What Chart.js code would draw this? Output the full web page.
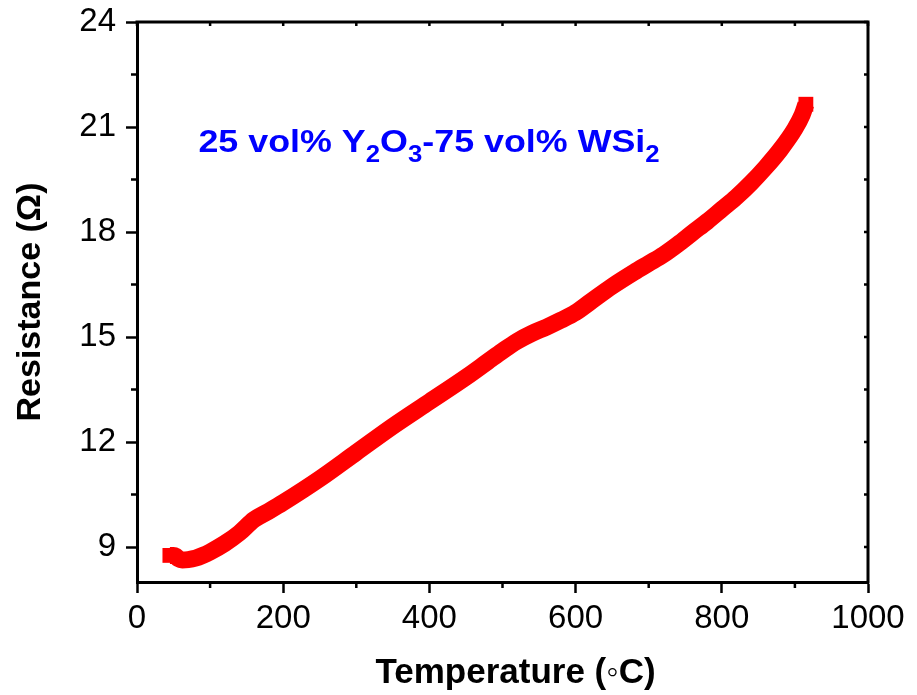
<!DOCTYPE html>
<html>
<head>
<meta charset="utf-8">
<title>Resistance vs Temperature</title>
<script src="https://cdn.jsdelivr.net/npm/chart.js@4.4.1/dist/chart.umd.min.js"></script>
<style>
    html, body { margin: 0; padding: 0; background: #fff; }
    #grafico { display: block; }
</style>
</head>
<body>
<canvas id="grafico" width="917" height="695"></canvas>
<script>
// Medidas: temperatura (°C) y resistencia (Ω)
const temperatura = [45, 50, 53, 57, 62, 70, 80, 90, 100, 120, 140, 160, 180, 200, 250, 300, 350, 400, 450, 480,
    500, 520, 540, 560, 580, 600, 620, 650, 680, 700, 720, 740, 760, 780, 800, 820, 840, 860, 880, 900, 910, 915];
const resistencia = [8.76, 8.76, 8.74, 8.66, 8.63, 8.64, 8.68, 8.76, 8.86, 9.1, 9.4, 9.78, 10.02, 10.27, 10.95, 11.7, 12.45, 13.15, 13.85, 14.3,
    14.6, 14.88, 15.1, 15.28, 15.48, 15.7, 16.0, 16.45, 16.85, 17.1, 17.35, 17.65, 17.98, 18.3, 18.65, 19.0, 19.4, 19.85, 20.35, 20.95, 21.35, 21.65];

// Marcas de los ejes
const ticksX = [0, 200, 400, 600, 800, 1000];
const ticksY = [9, 12, 15, 18, 21, 24];
const menoresX = [100, 300, 500, 700, 900];
const menoresY = [10.5, 13.5, 16.5, 19.5, 22.5];

// Rótulo de la composición: [texto, subíndice]
const rotulo = [['25 vol% Y', false], ['2', true], ['O', false], ['3', true], ['-75 vol% WSi', false], ['2', true]];
const tituloX = 'Temperature (◦C)';

const fuente = "'Liberation Sans', Arial, sans-serif";

// Marco superior/derecho, marcas menores, título X y rótulo azul
const marco = {
    id: 'marco',
    afterDraw(chart) {
        const { ctx, chartArea: a, scales: { x, y } } = chart;
        ctx.save();
        ctx.strokeStyle = '#000';
        ctx.lineWidth = 3;
        ctx.beginPath();
        ctx.moveTo(a.left - 1.5, a.top);
        ctx.lineTo(a.right, a.top);
        ctx.lineTo(a.right, a.bottom + 1.5);
        ctx.stroke();

        ctx.lineWidth = 2.5;
        ctx.beginPath();
        menoresX.forEach(v => {
            const px = x.getPixelForValue(v);
            ctx.moveTo(px, a.bottom);
            ctx.lineTo(px, a.bottom + 6);
        });
        menoresY.forEach(v => {
            const py = y.getPixelForValue(v);
            ctx.moveTo(a.left, py);
            ctx.lineTo(a.left - 6, py);
        });
        [...ticksX, ...menoresX].forEach(v => {
            const px = x.getPixelForValue(v);
            ctx.moveTo(px, a.top);
            ctx.lineTo(px, a.top + 4);
        });
        [...ticksY, ...menoresY].forEach(v => {
            const py = y.getPixelForValue(v);
            ctx.moveTo(a.right, py);
            ctx.lineTo(a.right - 4, py);
        });
        ctx.stroke();

        // título del eje X
        ctx.fillStyle = '#000';
        ctx.font = `bold 35px ${fuente}`;
        ctx.textAlign = 'center';
        ctx.textBaseline = 'middle';
        ctx.fillText(tituloX, (a.left + a.right) / 2 + 13, a.bottom + 91);

        // rótulo con subíndices, algo ensanchado
        ctx.fillStyle = '#0000ff';
        ctx.textAlign = 'left';
        ctx.textBaseline = 'alphabetic';
        ctx.translate(x.getPixelForValue(84), y.getPixelForValue(20.3));
        ctx.scale(1.12, 1);
        let cx = 0;
        rotulo.forEach(([t, sub]) => {
            ctx.font = `bold ${sub ? 23 : 32}px ${fuente}`;
            ctx.fillText(t, cx, sub ? 10 : 0);
            cx += ctx.measureText(t).width;
        });
        ctx.restore();
    }
};

const ultimo = temperatura.length - 1;

new Chart(document.getElementById('grafico').getContext('2d'), {
    type: 'line',
    data: {
        datasets: [{
            data: temperatura.map((t, i) => ({ x: t, y: resistencia[i] })),
            borderColor: '#ff0000',
            backgroundColor: '#ff0000',
            borderWidth: 17,
            borderCapStyle: 'butt',
            borderJoinStyle: 'round',
            cubicInterpolationMode: 'monotone',
            pointStyle: 'rect',
            pointRadius: c => (c.dataIndex === 0 || c.dataIndex === ultimo) ? 10.5 : 0,
            pointBorderWidth: 0,
            fill: false
        }]
    },
    options: {
        responsive: false,
        animation: false,
        layout: { padding: { top: 22, right: 49, left: 0, bottom: 0 } },
        plugins: { legend: { display: false }, tooltip: { enabled: false } },
        scales: {
            x: {
                type: 'linear',
                min: 0,
                max: 1000,
                afterBuildTicks: s => { s.ticks = ticksX.map(v => ({ value: v })); },
                afterFit: s => { s.height = 113; s.paddingLeft = 0; s.paddingRight = 0; },
                border: { display: true, color: '#000', width: 3 },
                grid: { drawOnChartArea: false, drawTicks: true, tickLength: 11, tickWidth: 2.5, tickColor: '#000' },
                ticks: {
                    color: '#000',
                    padding: 6,
                    maxRotation: 0,
                    font: { family: fuente, size: 33 },
                    callback: v => String(v)
                }
            },
            y: {
                type: 'linear',
                min: 8,
                max: 24,
                afterBuildTicks: s => { s.ticks = ticksY.map(v => ({ value: v })); },
                afterFit: s => { s.width = 137; s.paddingTop = 0; s.paddingBottom = 0; },
                border: { display: true, color: '#000', width: 3 },
                grid: { drawOnChartArea: false, drawTicks: true, tickLength: 11, tickWidth: 2.5, tickColor: '#000' },
                ticks: {
                    color: '#000',
                    padding: 10,
                    font: { family: fuente, size: 33 },
                    callback: v => String(v)
                },
                title: {
                    display: true,
                    text: 'Resistance (Ω)',
                    color: '#000',
                    font: { family: fuente, size: 34, weight: 'bold' },
                    padding: { top: 10, bottom: 0 }
                }
            }
        }
    },
    plugins: [marco]
});
</script>
</body>
</html>
